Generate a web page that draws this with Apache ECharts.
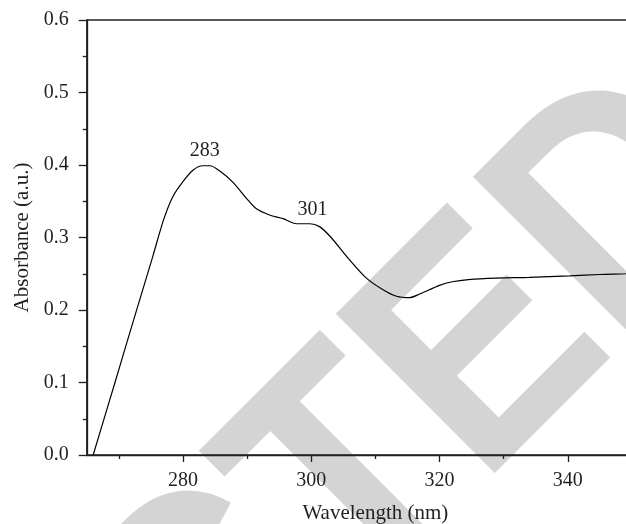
<!DOCTYPE html>
<html>
<head>
<meta charset="utf-8">
<script src="https://cdn.jsdelivr.net/npm/echarts@6/dist/echarts.min.js"></script>
<style>
html,body{margin:0;padding:0;background:#fff;}
#chart{width:626px;height:524px;}
</style>
</head>
<body>
<div id="chart"></div>
<script>
// ---- data ----
const wavelength = [266, 269.4, 272.5, 275.3, 277, 278.4, 280, 281.6, 283.1, 284.2, 285.7, 287.8, 289.9, 291.4, 293.5, 295.6, 297.7, 299.8, 301.3, 303.1, 305.7, 308.6, 311.2, 313.3, 315.3, 316.9, 320, 322, 324.5, 328.8, 334, 340.3, 345, 349, 355];
const absorbance = [0.0, 0.100, 0.192, 0.274, 0.325, 0.356, 0.377, 0.393, 0.399, 0.399, 0.392, 0.376, 0.354, 0.340, 0.331, 0.326, 0.319, 0.319, 0.315, 0.300, 0.272, 0.244, 0.228, 0.219, 0.217, 0.222, 0.234, 0.239, 0.242, 0.244, 0.245, 0.247, 0.249, 0.250, 0.252];
const peakLabels = ['283', '301'];
const peakLabelX = [283.4, 300.2];
const peakLabelY = [0.399, 0.317];
const xMajorTicks = [280, 300, 320, 340];
const xMinorTicks = [270, 290, 310, 330, 350];
const xTitle = 'Wavelength (nm)';
const yTitle = 'Absorbance (a.u.)';
const watermarkText = 'RETRACTED';

const curve = wavelength.map((w, i) => [w, absorbance[i]]);
const peaks = peakLabels.map((t, i) => ({ name: t, value: [peakLabelX[i], peakLabelY[i]] }));

const ink = '#231f20';
const serif = '"Liberation Serif", "DejaVu Serif", serif';

const chart = echarts.init(document.getElementById('chart'), null, { renderer: 'canvas' });
chart.setOption({
  animation: false,
  backgroundColor: '#fff',
  graphic: {
    elements: [{
      type: 'group',
      x: -496.8, y: 1472.8,
      rotation: Math.PI / 4,
      z: -10,
      silent: true,
      children: [{
        type: 'text',
        scaleX: 0.889,
        z: -10,
        style: {
          text: watermarkText,
          x: 0, y: -96,
          font: 'bold 327px "Liberation Sans"',
          fill: '#d4d4d4',
          align: 'left',
          verticalAlign: 'middle'
        }
      }]
    }]
  },
  grid: {
    left: 86.75, top: 20, right: -38, bottom: 69,
    outerBoundsMode: 'none',
    containLabel: false,
    show: true, borderColor: ink, borderWidth: 1.3, backgroundColor: 'transparent'
  },
  xAxis: [{
    type: 'value', min: 265, max: 355, position: 'bottom',
    name: xTitle, nameLocation: 'middle', nameGap: 48,
    nameTextStyle: { fontFamily: serif, fontSize: 21, color: ink },
    axisLine: { show: true, lineStyle: { color: ink, width: 1.3 } },
    axisTick: { show: true, customValues: xMajorTicks, length: 7, lineStyle: { color: ink, width: 1.3 } },
    axisLabel: { customValues: xMajorTicks, margin: 16, fontFamily: serif, fontSize: 20, color: ink },
    splitLine: { show: false }
  }, {
    type: 'value', min: 265, max: 355, position: 'top', offset: -435,
    axisLine: { show: false },
    axisTick: { show: true, inside: true, customValues: xMinorTicks, length: 4, lineStyle: { color: ink, width: 1.3 } },
    axisLabel: { show: false },
    splitLine: { show: false }
  }],
  yAxis: {
    type: 'value', min: 0, max: 0.6, interval: 0.1,
    name: yTitle, nameLocation: 'middle', nameGap: 54, nameRotate: 90,
    nameTextStyle: { fontFamily: serif, fontSize: 21, color: ink },
    axisLine: { show: true, lineStyle: { color: ink, width: 1.3 } },
    axisTick: { show: true, length: 8, lineStyle: { color: ink, width: 1.3 } },
    minorTick: { show: true, splitNumber: 2, length: 4, lineStyle: { color: ink, width: 1.3 } },
    axisLabel: { margin: 18, fontFamily: serif, fontSize: 20, color: ink, formatter: v => v.toFixed(1) },
    splitLine: { show: false }
  },
  series: [{
    type: 'line',
    data: curve,
    showSymbol: false,
    symbol: 'none',
    smooth: 0.3,
    lineStyle: { color: '#000', width: 1.2 },
    z: 3
  }, {
    type: 'scatter',
    data: peaks,
    symbolSize: 0,
    itemStyle: { opacity: 1 },
    label: {
      show: true, position: 'top', distance: 5, opacity: 1,
      formatter: '{b}', fontFamily: serif, fontSize: 20, color: ink
    },
    z: 4
  }]
});
</script>
</body>
</html>
